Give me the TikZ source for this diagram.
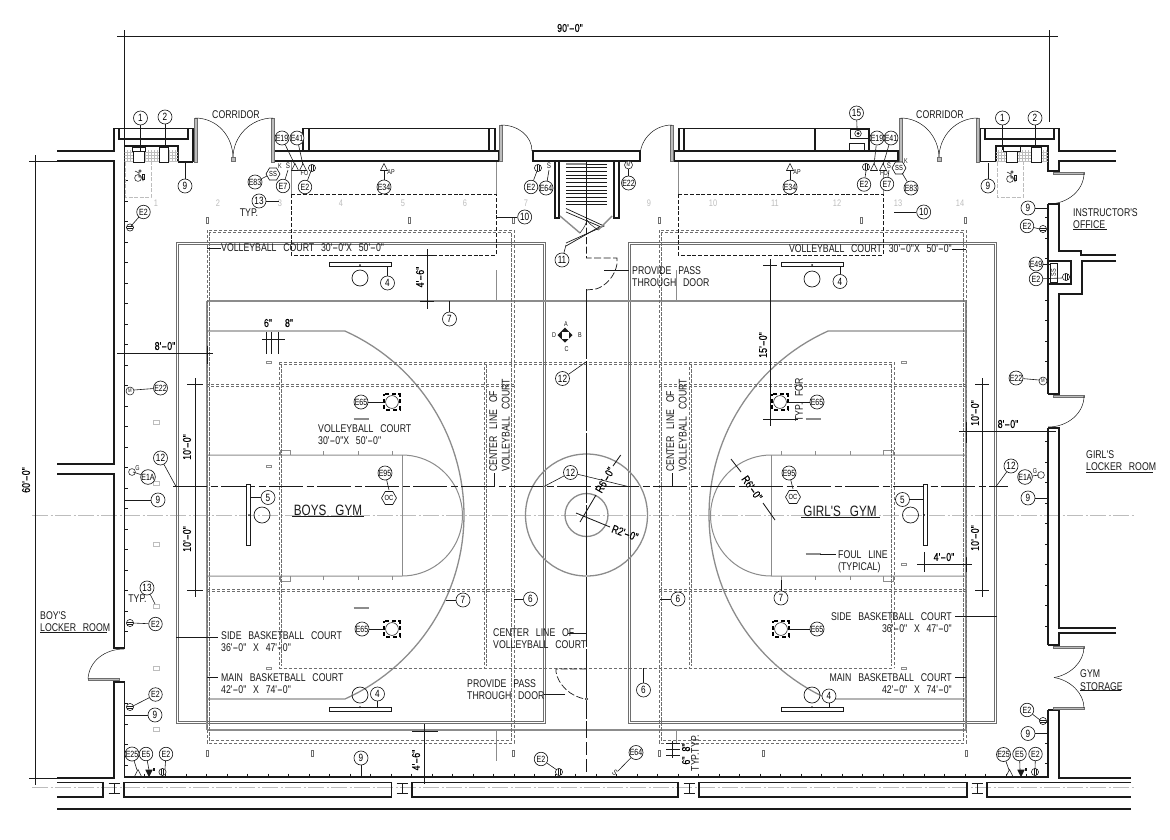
\documentclass[tikz,border=0pt]{standalone}
\usepackage{fontspec}
\usepackage{graphicx}
\usetikzlibrary{shapes.geometric}
\newfontfamily\cadf[FakeStretch=.78,WordSpace=2.8]{Liberation Sans}
\newfontfamily\cadb[FakeStretch=.78,WordSpace=2,FakeBold=.4]{Liberation Sans}
\newcommand\dd{\scalebox{2}[1]{-}}
\definecolor{ink}{HTML}{1A1A1A}
\definecolor{gr}{HTML}{8C8C8C}
\definecolor{dg}{HTML}{6E6E6E}
\definecolor{lg}{HTML}{BDBDBD}
\tikzset{
 wall/.style={draw=ink,line width=1.15pt,line join=miter},
 heavy/.style={draw=ink,line width=1.6pt},
 fine/.style={draw=ink,line width=.55pt},
 lead/.style={draw=ink,line width=.6pt},
 dimln/.style={draw=ink,line width=.85pt},
 court/.style={draw=gr,line width=1.3pt},
 gymrect/.style={draw=dg,line width=.8pt},
 vball/.style={draw=dg,line width=.72pt,dash pattern=on 3.4pt off 1.6pt},
 blkdash/.style={draw=ink,line width=.8pt,dash pattern=on 4pt off 1.8pt},
 leaf/.style={draw=dg,line width=.5pt,fill=lg},
 swing/.style={draw=ink,line width=.5pt},
 bub/.style={circle,draw=ink,line width=.65pt,fill=white,inner sep=0pt,minimum size=14pt,font=\cadf\fontsize{10.5}{11}\selectfont},
 ebub/.style={circle,draw=ink,line width=.65pt,fill=white,inner sep=0pt,minimum size=13.5pt,font=\cadf\fontsize{9}{10}\selectfont},
 hexb/.style={regular polygon,regular polygon sides=6,draw=ink,line width=.65pt,fill=white,inner sep=0pt,font=\cadf\fontsize{7.4}{8}\selectfont},
 txt/.style={inner sep=0pt,font=\cadf\fontsize{11.2}{12.6}\selectfont,text=ink},
 bigt/.style={inner sep=0pt,font=\cadf\fontsize{15}{16}\selectfont,text=ink},
 dimt/.style={inner sep=0pt,font=\cadb\fontsize{11.4}{12}\selectfont,text=black},
 smt/.style={inner sep=0pt,font=\cadf\fontsize{7}{7.5}\selectfont,text=ink},
 ghost/.style={inner sep=0pt,font=\cadf\fontsize{9.5}{10}\selectfont,text=lg},
 smark/.style={draw=gr,line width=.5pt},
}
\newcommand\Bub[4]{\node[bub] (#1) at (#2) {#3};\coordinate (#1-t) at (#4);\draw[lead] (#1) -- (#1-t);}
\newcommand\Ebu[4]{\node[ebub] (#1) at (#2) {#3};\coordinate (#1-t) at (#4);\draw[lead] (#1) -- (#1-t);}
\newcommand\Tri[2]{\draw[fine,fill=white] (#1-3.5,#2+3.5) -- (#1+3.5,#2+3.5) -- (#1,#2-3.5) -- cycle;}
\newcommand\TriF[2]{\draw[fine,fill=ink] (#1-3.2,#2-3) -- (#1+3.2,#2-3) -- (#1,#2+3.5) -- cycle;\fill[ink] (#1+3.5,#2-5) rectangle (#1+6,#2-2.5);}
\newcommand\Tv[2]{\draw[fine,fill=white] (#1,#2) circle[radius=3.6];\draw[fine] (#1-1.2,#2-3.4) -- (#1-1.2,#2+3.4) (#1+1.2,#2-3.4) -- (#1+1.2,#2+3.4);}
\newcommand\Th[2]{\draw[fine,fill=white] (#1,#2) circle[radius=3.6];\draw[fine] (#1-3.4,#2-1.2) -- (#1+3.4,#2-1.2) (#1-3.4,#2+1.2) -- (#1+3.4,#2+1.2);}
\newcommand\Mo[2]{\draw[fine,fill=white] (#1,#2) circle[radius=4];\node[smt,font=\cadf\fontsize{5.5}{6}\selectfont] at (#1,#2) {M};}
\newcommand\Wc[2]{\draw[fine] (#1-1,#2+2) circle[radius=3.4];\draw[fine] (#1+1,#2-5) circle[radius=1.2] (#1-4,#2-5) -- (#1,#2-3) -- (#1,#2+1) -- (#1+4,#2+1) -- (#1+4,#2+5);\draw[fine] (#1+3,#2-2) rectangle (#1+5,#2+3);}
\newcommand\Cam[2]{\draw[draw=black,line width=1.5pt,dash pattern=on 4pt off 2.6pt,dash phase=2pt] (#1-7.8,#2-7.8) rectangle (#1+7.8,#2+7.8);\draw[fine] (#1,#2) circle[radius=6.4];}
\begin{document}
\begin{tikzpicture}[x=1pt,y=-1pt]
\useasboundingbox (0,0) rectangle (1170,839);
\fill[white] (0,0) rectangle (1170,839);

%----- centre lines
\draw[draw=lg,line width=.7pt,dash pattern=on 16pt off 2.5pt on 2pt off 2.5pt] (32,515) -- (1134,515);
\draw[draw=lg,line width=.7pt,dash pattern=on 16pt off 2.5pt on 2pt off 2.5pt] (32,787) -- (1134,787);

%----- gym outlines
\draw[gymrect] (176,242) rectangle (545,723.5);
\draw[gymrect] (178,244) rectangle (543,721.5);
\draw[gymrect] (628,242) rectangle (996.5,723.5);
\draw[gymrect] (630,244) rectangle (994.5,721.5);

%----- main court
\draw[court] (207,301) -- (966,301) (207,730) -- (966,730) (207,301) -- (207,730) (966,301) -- (966,730);
\draw[court] (207,331) -- (345,331) plot[domain=-65.8:65.8,samples=60] ({262.3+201.7*cos(\x)},{515+201.7*sin(\x)}) -- (207,699);
\draw[court] (966,331) -- (828,331) plot[domain=-65.8:65.8,samples=60] ({910.7-201.7*cos(\x)},{515+201.7*sin(\x)}) -- (966,699);
\draw[court,line width=1pt] (207,455) -- (402,455) plot[domain=-90:90,samples=40] ({402+60.5*cos(\x)},{515.5+60.5*sin(\x)}) -- (207,576);
\draw[court,line width=1pt] (402,455) -- (402,576);
\draw[court,line width=1pt] (966,455) -- (771,455) plot[domain=-90:90,samples=40] ({771-60.5*cos(\x)},{515.5+60.5*sin(\x)}) -- (966,576);
\draw[court,line width=1pt] (771,455) -- (771,576);
\foreach \a in {323,358,392,781,815,850}{\draw[court,line width=.6pt] (\a,451) -- (\a,455) (\a,576) -- (\a,580);}
\foreach \a in {280,883}{\draw[smark] (\a,455) -- (\a,450) -- (\a+10,450) -- (\a+10,455) (\a,576) -- (\a,581) -- (\a+10,581) -- (\a+10,576);}
\draw[court] (586.5,515) circle[radius=61];
\draw[court] (586.5,515) circle[radius=21.5];
\draw[court,line width=.8pt] (496.5,270) -- (496.5,301) (676.5,270) -- (676.5,301) (496.5,730) -- (496.5,761) (676.5,730) -- (676.5,743);

%----- volleyball courts
\foreach \d in {0,2.3}{
 \draw[vball] (207+\d,230+\d) rectangle (514-\d,743-\d);
 \draw[vball] (659+\d,230+\d) rectangle (966-\d,743-\d);
 \draw[vball] (279+\d,362+\d) -- (279+\d,668-\d);
 \draw[vball] (484+\d,362+\d) -- (484+\d,668-\d);
 \draw[vball] (689+\d,362+\d) -- (689+\d,668-\d);
 \draw[vball] (894-\d,362+\d) -- (894-\d,668-\d);
 \draw[vball] (279,384+\d) -- (207,384+\d) (514,384+\d) -- (279,384+\d);
 \draw[vball] (659,384+\d) -- (966,384+\d);
 \draw[vball] (207,589+\d) -- (514,589+\d);
 \draw[vball] (659,589+\d) -- (966,589+\d);
 \draw[vball] (279,362+\d) -- (894,362+\d);
}
\draw[vball] (279,668) -- (894,668);

%----- dashed black rects
\draw[blkdash] (291,194) rectangle (496,255);
\draw[blkdash] (678,194) rectangle (883,255);
\draw[draw=gr,line width=1pt] (291,162) -- (291,194) (496,162) -- (496,194) (678,162) -- (678,194) (883,162) -- (883,194);

%----- long dashed
\draw[draw=ink,line width=.55pt,dash pattern=on 34pt off 3.5pt on 7pt off 3.5pt] (173,486.5) -- (1008,486.5);
\draw[draw=ink,line width=.9pt,dash pattern=on 70pt off 2pt] (586.5,289) -- (586.5,725);
\draw[draw=ink,line width=.7pt,dash pattern=on 13pt off 4pt] (586.5,725) -- (586.5,778);
\draw[draw=ink,line width=.7pt,dash pattern=on 7pt off 2.5pt] (586.5,218) -- (586.5,258) -- (617,258) -- (617,264) .. controls (615,276) and (606,286) .. (596,289) -- (586.5,290);
\draw[draw=ink,line width=.7pt,dash pattern=on 7pt off 2.5pt] (586.5,669) -- (556,669) -- (556,672) .. controls (558,684) and (570,697) .. (586,699);
\draw[fine,fill=white] (586.5,699) circle[radius=1.3];

%----- walls: left and top left
\draw[wall] (57,151) -- (114,151) -- (114,128.5) -- (193,128.5) -- (193,162);
\draw[wall] (119,128.5) -- (119,139) -- (188,139) -- (188,128.5);
\draw[wall] (57,161) -- (114,161) -- (114,464) -- (57,464);
\draw[wall] (57,474) -- (114,474) -- (114,648) -- (125,648);
\draw[wall] (125,682) -- (114,682) -- (114,778) -- (57,778);
\draw[heavy] (124.5,146) -- (124.5,648) (124.5,682) -- (124.5,777);
\draw[wall] (124.5,146) -- (178,146) -- (178,162);
\draw[heavy] (178,162) -- (193,162);
\draw[heavy] (124,777) -- (1048,777);
\foreach \a in {144,165,186,206,227,247,268,288,309,329,350,370,391,411,432,452,473,493,514,534,555,575,596,616,637,657,678,698,719,739,760,780,801,821,842,862,883,903,924,944,965,985,1006,1026}{\draw[fine] (\a,773.5) -- (\a,777);}
\foreach \a in {180,201,221,242,262,283,303,324,344,365,385,406,426,447,467,488,508,529,549,570,590,611,631,703,724,744,765}{\draw[fine] (124.5,\a) -- (128,\a);}
%----- top walls
\draw[wall] (274,151) rectangle (499,161);
\draw[wall] (303,151) -- (303,128.5) -- (495,128.5) -- (495,151);
\draw[wall] (309,128.5) -- (309,151) (489,128.5) -- (489,151);
\draw[wall] (533,151) rectangle (640,161);
\draw[wall] (674,151) rectangle (898,161);
\draw[wall] (679,151) -- (679,128.5) -- (869,128.5) -- (869,151);
\draw[wall] (684,128.5) -- (684,151) (815,128.5) -- (815,151);
\draw[fine,line width=.8pt] (850,129.5) rectangle (868,138);
\draw[fine,fill=white] (858,133.5) circle[radius=3.3];
\fill[ink] (858,133.5) circle[radius=1.5];
\draw[fine,line width=.8pt] (849,143) rectangle (864,151);
%----- top right
\draw[wall] (980,161) -- (980,128.5) -- (1059,128.5) -- (1059,151) -- (1116,151);
\draw[wall] (985,128.5) -- (985,139) -- (1054,139) -- (1054,128.5);
\draw[heavy] (980,161.5) -- (996,161.5);
\draw[wall] (996,161.5) -- (996,146) -- (1048,146) -- (1048,171) -- (1059,171) -- (1059,161) -- (1116,161);
%----- right wall
\draw[heavy] (1048,204) -- (1048,394) (1048,428) -- (1048,645) (1048,710) -- (1048,778);
\draw[wall] (1048,204) -- (1059,204) -- (1059,251) -- (1081,251) -- (1081,255) -- (1116,255);
\draw[wall] (1116,261) -- (1082,261) -- (1082,294) -- (1059,294) -- (1059,394) -- (1048,394);
\draw[wall] (1048,428) -- (1059,428) -- (1059,628) -- (1116,628);
\draw[wall] (1116,633) -- (1059,633) -- (1059,645) -- (1048,645);
\draw[wall] (1048,710) -- (1059,710) -- (1059,778) -- (1131,778);
\draw[heavy] (1048,261) -- (1071,261) -- (1071,284) -- (1048,284);
\draw[fine] (1050,263) rectangle (1057,282);
\node[smt,rotate=90] (ssbox) at (1053.5,272.5) {SS};
\foreach \a in {217,238,258,300,320,341,361,382,441,462,482,503,523,544,564,585,605,626,722,743,763}{\draw[fine] (1048,\a) -- (1044.5,\a);}

%----- bottom panels
\draw[wall] (57,782.5) -- (103,782.5) -- (103,797) -- (57,797);
\draw[wall] (124,782.5) rectangle (391.5,797);
\draw[wall] (412,782.5) rectangle (678,797);
\draw[wall] (699,782.5) rectangle (967,797);
\draw[wall] (1131,782.5) -- (987,782.5) -- (987,797) -- (1131,797);
\draw[wall] (57,809) -- (1131,809);
\foreach \a in {114,402,689,977}{\draw[fine,line width=.8pt] (\a-5.5,783) -- (\a+5.5,783) (\a-5.5,793) -- (\a+5.5,793) (\a,783) -- (\a,793);}

%----- doors
\draw[leaf] (194,118) rectangle (197,162);
\draw[swing] (195,118) .. controls (217,118) and (233,136) .. (233,158);
\draw[leaf] (271.5,118) rectangle (274.5,162);
\draw[swing] (273,118) .. controls (251,118) and (233,136) .. (233,158);
\draw[leaf] (231,157) rectangle (235,161);
\draw[leaf] (899,118) rectangle (902,162);
\draw[swing] (900.5,118) .. controls (922,118) and (939,136) .. (939,158);
\draw[leaf] (976.5,118) rectangle (979.5,162);
\draw[swing] (978,118) .. controls (956,118) and (939,136) .. (939,158);
\draw[leaf] (937,157) rectangle (941,161);
\draw[leaf] (499.5,125) rectangle (502.5,161);
\draw[swing] (501,125) .. controls (518,125) and (532,136) .. (532,151);
\draw[leaf] (670.5,125) rectangle (673.5,161);
\draw[swing] (672,125) .. controls (655,125) and (641,138) .. (640,155);
\draw[leaf] (88,678) rectangle (119,680.5);
\draw[swing] (88,679) .. controls (89,661) and (105,649) .. (124,649);
\draw[leaf] (1053,172) rectangle (1084,174.5);
\draw[swing] (1084,173) .. controls (1084,190) and (1068,204) .. (1048,204);
\draw[leaf] (1053,395) rectangle (1084,397.5);
\draw[swing] (1084,396) .. controls (1084,413) and (1068,427) .. (1048,427);
\draw[leaf] (1053,646) rectangle (1084,648.5);
\draw[swing] (1084,647) .. controls (1084,662) and (1070,675) .. (1054,677.5);
\draw[leaf] (1053,707) rectangle (1084,709.5);
\draw[swing] (1084,708) .. controls (1084,693) and (1070,680) .. (1054,677.5);

%----- restrooms
\begin{scope}
\clip (124.5,150) rectangle (178,162);
\foreach \a in {127,130,...,178}{\draw[draw=lg,line width=.35pt] (\a,150) -- (\a,162);}
\foreach \a in {152,155,...,162}{\draw[draw=lg,line width=.35pt] (124,\a) -- (178,\a);}
\end{scope}
\begin{scope}
\clip (996,150) rectangle (1048,162);
\foreach \a in {998,1001,...,1048}{\draw[draw=lg,line width=.35pt] (\a,150) -- (\a,162);}
\foreach \a in {152,155,...,162}{\draw[draw=lg,line width=.35pt] (996,\a) -- (1048,\a);}
\end{scope}
\draw[fine,fill=white] (132,147) rectangle (145,151);
\draw[fine,fill=white] (133,151) rectangle (144,162);
\draw[fine,fill=white] (159,147) rectangle (168,162);
\draw[fine,fill=white] (1003,146.5) rectangle (1020,151);
\draw[fine,fill=white] (1006,151) rectangle (1017,162);
\draw[fine,fill=white] (1031,147) rectangle (1041,162);
\draw[draw=lg,line width=.6pt,dash pattern=on 4pt off 1.5pt] (125,162) -- (125,197) -- (151,197) -- (151,162);
\draw[draw=lg,line width=.6pt,dash pattern=on 4pt off 1.5pt] (997,162) -- (997,197) -- (1023,197) -- (1023,162);
\Wc{139}{176}
\Wc{1011}{177}

%----- stairs
\draw[wall] (555,161) -- (555,218) -- (559,218) -- (559,161);
\draw[wall] (614,161) -- (614,218) -- (619,218) -- (619,161);
\foreach \a in {164,167.7,...,208}{\draw[draw=ink,line width=.75pt] (566,\a) -- (607,\a);}
\draw[draw=gr,line width=2pt] (566,164) -- (586,164);
\draw[draw=ink,line width=.7pt] (586.5,161) -- (586.5,218);
\draw[fine,line width=.7pt] (566,208.5) -- (604,226) -- (566,243);
\draw[fine,line width=.7pt] (566,212) -- (600,226.5) -- (566,246);
\draw[draw=gr,line width=1.4pt] (560,216) -- (580,233) (612,216) -- (598,230);
\draw[swing] (580,233) .. controls (584,228) and (586,224) .. (587,220) (598,230) .. controls (593,226) and (589,224) .. (587,220);

%----- gray column numbers and small marks
\foreach \n/\a in {1/156,2/218,3/280,4/341,5/403,6/465,7/526,9/649,10/713,11/775,12/837,13/898,14/960}{\node[ghost] (g\n) at (\a,203) {\n};}
\foreach \a in {207,409,513,659,861,965}{\draw[draw=dg,line width=.45pt] (\a-1,217) rectangle (\a+1,223);}
\foreach \a in {207,312,513,659,763,966}{\draw[draw=dg,line width=.45pt] (\a-1,750) rectangle (\a+1,756);}
\foreach \a in {422,483,544,606,668,729}{\draw[draw=lg,line width=.5pt] (153,\a-2) rectangle (159,\a+2);}
\foreach \a/\b in {269/362,269/466,269/668,904/362,904/564,904/668}{\draw[draw=gr,line width=.6pt] (\a-2.5,\b-1) rectangle (\a+2.5,\b+1);}
\foreach \a/\b in {361/419,361/608,813/419,813/554}{\draw[draw=gr,line width=1.8pt] (\a-7.5,\b) -- (\a+7.5,\b);}

%----- backboards
\draw[fine,line width=.7pt,fill=white] (329.5,262) rectangle (391.5,266);
\draw[fine,line width=.7pt] (360,278) circle[radius=8];
\fill[ink] (360,265) circle[radius=1];
\draw[fine,line width=.7pt,fill=white] (781.5,262) rectangle (843.5,266);
\draw[fine,line width=.7pt] (812,279) circle[radius=8];
\fill[ink] (812,265) circle[radius=1];
\draw[fine,line width=.7pt,fill=white] (329.5,707) rectangle (391.5,711);
\draw[fine,line width=.7pt] (360,695) circle[radius=8];
\fill[ink] (360,707) circle[radius=1];
\draw[fine,line width=.7pt,fill=white] (781,707) rectangle (843,711);
\draw[fine,line width=.7pt] (812,695) circle[radius=8];
\fill[ink] (812,707) circle[radius=1];
\draw[fine,line width=.7pt,fill=white] (246,484) rectangle (250,545);
\draw[fine,line width=.7pt] (262,515) circle[radius=8];
\fill[ink] (249,515) circle[radius=1];
\draw[fine,line width=.7pt,fill=white] (923.5,484) rectangle (927,545);
\draw[fine,line width=.7pt] (910.5,515) circle[radius=8];
\fill[ink] (924,515) circle[radius=1];

%----- cameras
\Cam{392}{402}\Cam{780}{402}\Cam{392}{629}\Cam{781}{629}

%----- dimensions
\draw[dimln] (117,36) -- (1058,36) (124,30) -- (124,146) (1049,30) -- (1049,122);
\node[dimt] (d90) at (570,28) {90'\dd 0"};
\draw[dimln] (35.5,155) -- (35.5,785) (29,161) -- (57,161) (29,778) -- (57,778);
\node[dimt,rotate=90] (d60) at (26,480) {60'\dd 0"};
\draw[dimln] (427,249) -- (427,309) (417,255) -- (437,255) (420,301.5) -- (434,301.5);
\node[dimt,rotate=90] (d46a) at (420,277) {4'\dd 6"};
\node[dimt] (d6a) at (268,323) {6"};
\node[dimt] (d8a) at (289,323) {8"};
\draw[dimln] (266,332) -- (266,354) (271.5,332) -- (271.5,354) (278,332) -- (278,354) (262,339) -- (285,339);
\node[dimt] (d8l) at (165,346) {8'\dd 0"};
\draw[dimln] (117,353) -- (213,353) (124.5,349) -- (124.5,358) (207,346) -- (207,364);
\draw[dimln] (195,378) -- (195,597) (187,384.5) -- (203,384.5) (187,590.5) -- (203,590.5) (190,486.5) -- (200,486.5);
\node[dimt,rotate=90] (d10a) at (187,447) {10'\dd 0"};
\node[dimt,rotate=90] (d10b) at (187,539) {10'\dd 0"};
\node[dimt] (d8r) at (1008,424) {8'\dd 0"};
\draw[dimln] (959,431.5) -- (1056,431.5) (966,422) -- (966,443) (1048,427) -- (1048,436);
\draw[dimln] (982,378) -- (982,597) (975,384.5) -- (989,384.5) (975,590.5) -- (989,590.5);
\node[dimt,rotate=90] (d10c) at (975,413) {10'\dd 0"};
\node[dimt,rotate=90] (d10d) at (975,538) {10'\dd 0"};
\draw[dimln] (770,259) -- (770,426) (763,265) -- (777,265) (763,419) -- (798,419);
\node[dimt,rotate=90] (d15) at (763,345) {15'\dd 0"};
\node[txt,rotate=90] (tf) at (799,400) {TYP. FOR};
\node[dimt] (d4r) at (944,557) {4'\dd 0"};
\draw[dimln] (917,564.5) -- (972,564.5) (924,552) -- (924,572) (966,557) -- (966,572);
\draw[dimln] (424,724) -- (424,784) (412,731) -- (438,731);
\node[dimt,rotate=90] (d46b) at (416,760) {4'\dd 6"};
\draw[dimln] (672,741) -- (672,758) (666,743) -- (680,743) (666,749) -- (680,749) (666,755) -- (680,755);
\node[dimt,rotate=90] (d68) at (686,754) {6" 8"};
\node[txt,rotate=90] (dtt) at (695,753) {TYP.TYP.};
% radii
\draw[dimln] (580,522) -- (596,495) (613,466) -- (620.7,455);
\node[dimt,rotate=60] (r6a) at (605,480) {R6'\dd 0"};
\draw[dimln] (576,513) -- (610,527);
\node[dimt,rotate=-20] (r2) at (625,533) {R2'\dd 0"};
\draw[dimln] (731,459) -- (741,472) (763,503) -- (775,520);
\node[dimt,rotate=-55] (r6b) at (752,488) {R6'\dd 0"};

%----- labels
\node[txt,anchor=west] (tv1) at (221,248) {VOLLEYBALL COURT 30'\dd 0"X 50'\dd 0"};
\draw[lead] (207,248) -- (tv1.west);
\node[txt,anchor=east] (tv2) at (952,249) {VOLLEYBALL COURT 30'\dd 0"X 50'\dd 0"};
\draw[lead] (966,249) -- (tv2.east);
\node[txt,anchor=north west,align=left] (tv3) at (318,424) {VOLLEYBALL COURT\\30'\dd 0"X 50'\dd 0"};
\node[bigt] (boys) at (328,510) {BOYS GYM};
\draw[fine] (292,516.5) -- (364,516.5);
\node[bigt] (girls) at (840,511) {GIRL'S GYM};
\draw[fine] (801,517.5) -- (880,517.5);
\node[txt,anchor=north west,align=left] (ts1) at (221,631) {SIDE BASKETBALL COURT\\36'\dd 0" X 47'\dd 0"};
\coordinate (ts1a) at (176,637);\draw[lead] (ts1a) -- (218,637);
\node[txt,anchor=north west,align=left] (tm1) at (221,673) {MAIN BASKETBALL COURT\\42'\dd 0" X 74'\dd 0"};
\coordinate (tm1a) at (207,677);\draw[lead] (tm1a) -- (218,677);
\node[txt,anchor=north east,align=right] (ts2) at (952,612) {SIDE BASKETBALL COURT\\36'\dd 0" X 47'\dd 0"};
\coordinate (ts2a) at (997,616);\draw[lead] (ts2a) -- (955,616);
\node[txt,anchor=north east,align=right] (tm2) at (952,673) {MAIN BASKETBALL COURT\\42'\dd 0" X 74'\dd 0"};
\coordinate (tm2a) at (966,677);\draw[lead] (tm2a) -- (955,677);
\node[txt,anchor=north west,align=left] (tp1) at (632,266) {PROVIDE PASS\\THROUGH DOOR};
\coordinate (tp1a) at (604,270);\draw[lead] (tp1a) -- (629,270);
\node[txt,anchor=north west,align=left] (tp2) at (467,679) {PROVIDE PASS\\THROUGH DOOR};
\coordinate (tp2a) at (565,694);\draw[lead] (tp2a) -- (544,694);
\node[txt,anchor=north west,align=left] (tc1) at (493,628) {CENTER LINE OF\\VOLLEYBALL COURT};
\coordinate (tc1a) at (586,633);\draw[lead] (tc1a) -- (568,633);
\node[txt,rotate=90,anchor=south west,align=left] (tc2) at (510,472) {CENTER LINE OF\\VOLLEYBALL COURT};
\coordinate (tc2a) at (494.5,486.5);\draw[lead] (tc2a) -- (494.5,473);
\node[txt,rotate=90,anchor=south west,align=left] (tc3) at (687,472) {CENTER LINE OF\\VOLLEYBALL COURT};
\coordinate (tc3a) at (672,486.5);\draw[lead] (tc3a) -- (672,473);
\node[txt,anchor=north west,align=left] (tf1) at (838,550) {FOUL LINE\\(TYPICAL)};
\coordinate (tf1a) at (820,554);\draw[lead] (tf1a) -- (836,554);
\node[txt] (cor1) at (236,115) {CORRIDOR};
\node[txt] (cor2) at (940,115) {CORRIDOR};
\node[txt] (typ1) at (249,213) {TYP.};
\node[txt] (typ2) at (137.5,599) {TYP.};
\node[txt,anchor=north west,align=left] (off) at (1073,208) {INSTRUCTOR'S\\OFFICE};
\draw[fine] (1073,229.5) -- (1107,229.5);
\node[txt,anchor=north west,align=left] (grl) at (1086,450) {GIRL'S\\LOCKER ROOM};
\draw[fine] (1086,472) -- (1153,472);
\node[txt,anchor=north west,align=left] (boy) at (40,611) {BOY'S\\LOCKER ROOM};
\draw[fine] (40,632) -- (107,632);
\node[txt,anchor=north west,align=left] (sto) at (1080,669.5) {GYM\\STORAGE};
\draw[fine] (1080,690.5) -- (1121,690.5);

%----- net post symbol
\fill[ink] (565,327.5) -- (572.5,335) -- (565,342.5) -- (557.5,335) -- cycle;
\fill[white] (561.5,331.5) rectangle (568.5,338.5);
\node[smt] (pa) at (566,324) {A};
\node[smt] (pb) at (580,335) {B};
\node[smt] (pc) at (566.5,349) {C};
\node[smt] (pd) at (554,335) {D};

%----- device icons
\Tri{295}{167}\Tri{303}{167}\Tv{312}{168}
\Tri{384}{167}\Tri{790}{167}
\Tri{874}{167}\Tri{883}{167}\Tv{866}{167}\Tv{538}{168}
\Mo{628.5}{165}\Mo{130}{391}\Mo{1043}{381}
\Th{130}{227.5}\Th{1043}{229}\Th{130}{623}\Th{130}{707}\Th{1043}{721}
\Tv{1066}{277}
\Tri{138}{773}\TriF{149}{773}\Tv{162.5}{772}
\Tri{1009.5}{773}\TriF{1021}{773}\Tv{1035}{772}
\Tv{559}{772}
\draw[fine] (132,472) circle[radius=3.4] (1041,475) circle[radius=3.4];
\node[smt] (ga) at (137.5,468) {G};
\node[smt] (gb) at (1035,471) {G};
\node[smt] (k1) at (280,166) {K};
\node[smt,font=\cadf\fontsize{8}{8.5}\selectfont] (s1) at (288,166) {S};
\node[smt] (fo1) at (304.5,173) {FO};
\node[smt] (ap1) at (391,172) {AP};
\node[smt] (ap2) at (797,172) {AP};
\node[smt] (fo2) at (884,173) {FO};
\node[smt,font=\cadf\fontsize{8}{8.5}\selectfont] (s2) at (889,166) {S};
\node[smt] (k2) at (906,161) {K};
\node[smt,font=\cadf\fontsize{8}{8.5}\selectfont] (s3) at (549,166) {S};
\node[smt,rotate=-40,font=\cadf\fontsize{8}{8.5}\selectfont] (s4) at (615,773) {S};

%----- numbered callouts
\Bub{n1l}{140.5,118}{1}{140.5,151}
\Bub{n2l}{165,117}{2}{165,147}
\Bub{n1r}{1002.5,118}{1}{1002.5,150}
\Bub{n2r}{1035,118}{2}{1035,147}
\Bub{n15}{856.5,113}{15}{857,128}
\Bub{n9a}{185,186}{9}{185,163}
\Bub{n9b}{988,186}{9}{988,163}
\Bub{n9c}{1028,208}{9}{1048,208}
\Bub{n9d}{158,500}{9}{125,500}
\Bub{n9e}{1028,498}{9}{1048,498}
\Bub{n9f}{155,715}{9}{125,715}
\Bub{n9g}{1028,733.5}{9}{1048,733.5}
\Bub{n9h}{361,758}{9}{361,776}
\Bub{n10a}{524.7,217}{10}{496,217}
\Bub{n10b}{923.7,212}{10}{894,212}
\Bub{n11}{562,260}{11}{566,245}
\Bub{n13a}{259,201}{13}{279,201}
\Bub{n13b}{147,588}{13}{155,604}
\Bub{n12a}{160.5,458}{12}{176,486.5}
\Bub{n12b}{562.5,378.5}{12}{586,362}
\Bub{n12c}{570.5,472.5}{12}{544,486.5}
\draw[lead] (n12c) -- (628,486.5);
\Bub{n12d}{1011,466}{12}{996,486.5}
\Bub{n7a}{449.5,319}{7}{449.5,301}
\Bub{n7b}{463,600}{7}{446,600}
\Bub{n7c}{781,598}{7}{781,580}
\Bub{n6a}{530.5,599}{6}{514,599}
\Bub{n6b}{678,599}{6}{660,599}
\Bub{n6c}{643.5,690}{6}{643.5,668}
\Bub{n4a}{387.5,283}{4}{387.5,266}
\Bub{n4b}{840,281.5}{4}{840,266}
\Bub{n4c}{377.5,694}{4}{377.5,707}
\Bub{n4d}{829,696}{4}{829,707}
\Bub{n5a}{268,497.5}{5}{250,497.5}
\Bub{n5b}{902.5,499.5}{5}{923.5,499.5}

%----- E callouts
\Ebu{e19a}{282,138}{E19}{295,165}
\Ebu{e41a}{297,138}{E41}{303,165}
\node[hexb,minimum size=14pt] (ssa) at (273,174) {SS};
\Ebu{e83a}{255,182}{E83}{267,176}
\Ebu{e7a}{283,186}{E7}{288,170}
\Ebu{e2a}{305,187}{E2}{311,171}
\Ebu{e34a}{384,187}{E34}{384,170}
\Ebu{e2b}{531,187}{E2}{537,171}
\Ebu{e64a}{546,188}{E64}{549,170}
\Ebu{e22a}{628.5,183}{E22}{628.5,169}
\Ebu{e34b}{790,187}{E34}{790,170}
\Ebu{e2c}{864,184.5}{E2}{866,171}
\Ebu{e19b}{877,138}{E19}{874,165}
\Ebu{e41b}{891,138}{E41}{883,165}
\Ebu{e7b}{887,184}{E7}{889,170}
\node[hexb,minimum size=14pt] (ssb) at (899,168) {SS};
\Ebu{e83b}{911,188}{E83}{902,173}
\Ebu{e2d}{143.5,212}{E2}{131,226}
\Ebu{e2e}{1027,226}{E2}{1040,229}
\Ebu{e49}{1036,264}{E49}{1050,264}
\Ebu{e2f}{1036,279}{E2}{1062,278}
\Ebu{e22b}{160.5,388}{E22}{134,390}
\Ebu{e22c}{1016,378}{E22}{1039,380}
\Ebu{e1a}{148,477}{E1A}{133,472}
\Ebu{e1b}{1025,477}{E1A}{1039,475}
\Ebu{e2g}{155.5,624}{E2}{133,623}
\Ebu{e2h}{155.5,694.5}{E2}{133,706}
\Ebu{e2i}{1027,710}{E2}{1040,720}
\Ebu{e25a}{132,754}{E25}{137,770}
\Ebu{e5a}{146,754}{E5}{149,770}
\Ebu{e2j}{166,754}{E2}{165,769}
\Ebu{e25b}{1003.5,754.5}{E25}{1009,770}
\Ebu{e5b}{1019.5,754}{E5}{1020,770}
\Ebu{e2k}{1035.5,754}{E2}{1035,769}
\Ebu{e2l}{541,759}{E2}{557,770}
\Ebu{e64b}{636,752.5}{E64}{618,771}
\Ebu{e65a}{361,402}{E65}{384,402}
\Ebu{e65b}{362,629}{E65}{384,629}
\Ebu{e65c}{817,402}{E65}{788,402}
\Ebu{e65d}{817,629}{E65}{789,629}
\node[hexb,minimum size=15pt] (oca) at (389,498) {OC};
\Ebu{e95a}{385,473}{E95}{389,490}
\node[hexb,minimum size=15pt] (ocb) at (793,497) {OC};
\Ebu{e95b}{789,473}{E95}{793,489}
\end{tikzpicture}
\end{document}
